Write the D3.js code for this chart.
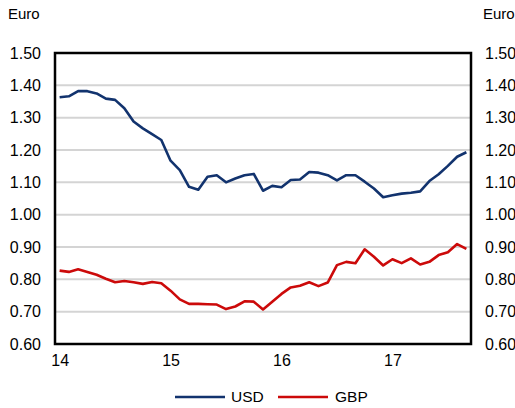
<!DOCTYPE html>
<html><head><meta charset="utf-8">
<script src="https://cdn.jsdelivr.net/npm/d3@7"></script>
<style>body{margin:0;background:#fff}svg{display:block}text{font-family:"Liberation Sans",Arial,sans-serif;fill:#000}</style>
</head><body><svg id="c" width="515" height="408"></svg>
<script>
const usd = [1.363,1.366,1.382,1.382,1.375,1.359,1.355,1.329,1.288,1.267,1.249,1.231,
  1.167,1.138,1.086,1.077,1.117,1.122,1.100,1.112,1.122,1.126,1.074,1.089,
  1.085,1.107,1.109,1.132,1.130,1.122,1.106,1.122,1.122,1.102,1.081,1.054,
  1.060,1.065,1.068,1.072,1.104,1.125,1.151,1.179,1.193];
const gbp = [0.827,0.823,0.831,0.823,0.814,0.802,0.791,0.795,0.791,0.786,0.792,0.788,
  0.765,0.738,0.724,0.724,0.723,0.722,0.708,0.716,0.732,0.731,0.707,0.731,
  0.755,0.775,0.780,0.791,0.779,0.790,0.844,0.854,0.850,0.893,0.870,0.843,
  0.862,0.850,0.865,0.846,0.854,0.875,0.884,0.909,0.894];
const years = ["14","15","16","17"];
const yTicks = [0.6,0.7,0.8,0.9,1.0,1.1,1.2,1.3,1.4,1.5];
const seriesNames = ["USD","GBP"];
const colors = ["#12336e","#cc0a0a"];

const svg = d3.select("#c");
const L=55,R=471,T=53,B=344;
const idx = d3.range(usd.length);
const x = d3.scalePoint().domain(idx).range([L,R]).padding(0.5);
const y = d3.scaleLinear().domain([0.6,1.5]).range([B,T]);

// gridlines
svg.append("g").selectAll("line").data(yTicks.filter(v=>v>0.6&&v<1.5)).join("line")
  .attr("x1",L).attr("x2",R).attr("y1",d=>y(d)).attr("y2",d=>y(d))
  .attr("stroke","#d4d4d4").attr("stroke-width",2);

const line = d3.line().x((d,i)=>x(i)).y(d=>y(d));
[usd,gbp].forEach((s,k)=>{
  svg.append("path").datum(s).attr("d",line).attr("fill","none")
    .attr("stroke",colors[k]).attr("stroke-width",2.6).attr("stroke-linejoin","round");
});

// box
svg.append("rect").attr("x",L).attr("y",T).attr("width",R-L).attr("height",B-T)
  .attr("fill","none").attr("stroke","#000").attr("stroke-width",2.5);

// axes
const fmt = d3.format(".2f");
const yl = d3.axisLeft(y).tickValues(yTicks).tickFormat(fmt).tickSize(0).tickPadding(14);
const gl = svg.append("g").attr("transform",`translate(${L},0)`).call(yl);
const yr = d3.axisRight(y).tickValues(yTicks).tickFormat(fmt).tickSize(0).tickPadding(14);
const gr = svg.append("g").attr("transform",`translate(${R},0)`).call(yr);
const xa = d3.axisBottom(x).tickValues(years.map((_,i)=>i*12)).tickFormat(d=>years[d/12]).tickSize(0).tickPadding(11);
const gx = svg.append("g").attr("transform",`translate(0,${B})`).call(xa);
[gl,gr,gx].forEach(g=>{g.select(".domain").remove();
  g.selectAll("text").attr("font-size",16).attr("font-family","Liberation Sans, Arial, sans-serif").attr("fill","#000");});

svg.append("text").attr("x",8).attr("y",19).attr("font-size",15).text("Euro");
svg.append("text").attr("x",483).attr("y",19).attr("font-size",15).text("Euro");

// legend
const lg = [[175,231],[278,335]];
seriesNames.forEach((n,k)=>{
  svg.append("line").attr("x1",lg[k][0]).attr("x2",lg[k][0]+50).attr("y1",397).attr("y2",397)
    .attr("stroke",colors[k]).attr("stroke-width",2.6);
  svg.append("text").attr("x",lg[k][1]).attr("y",397).attr("dy","0.35em").attr("font-size",15.5).text(n);
});
</script></body></html>
